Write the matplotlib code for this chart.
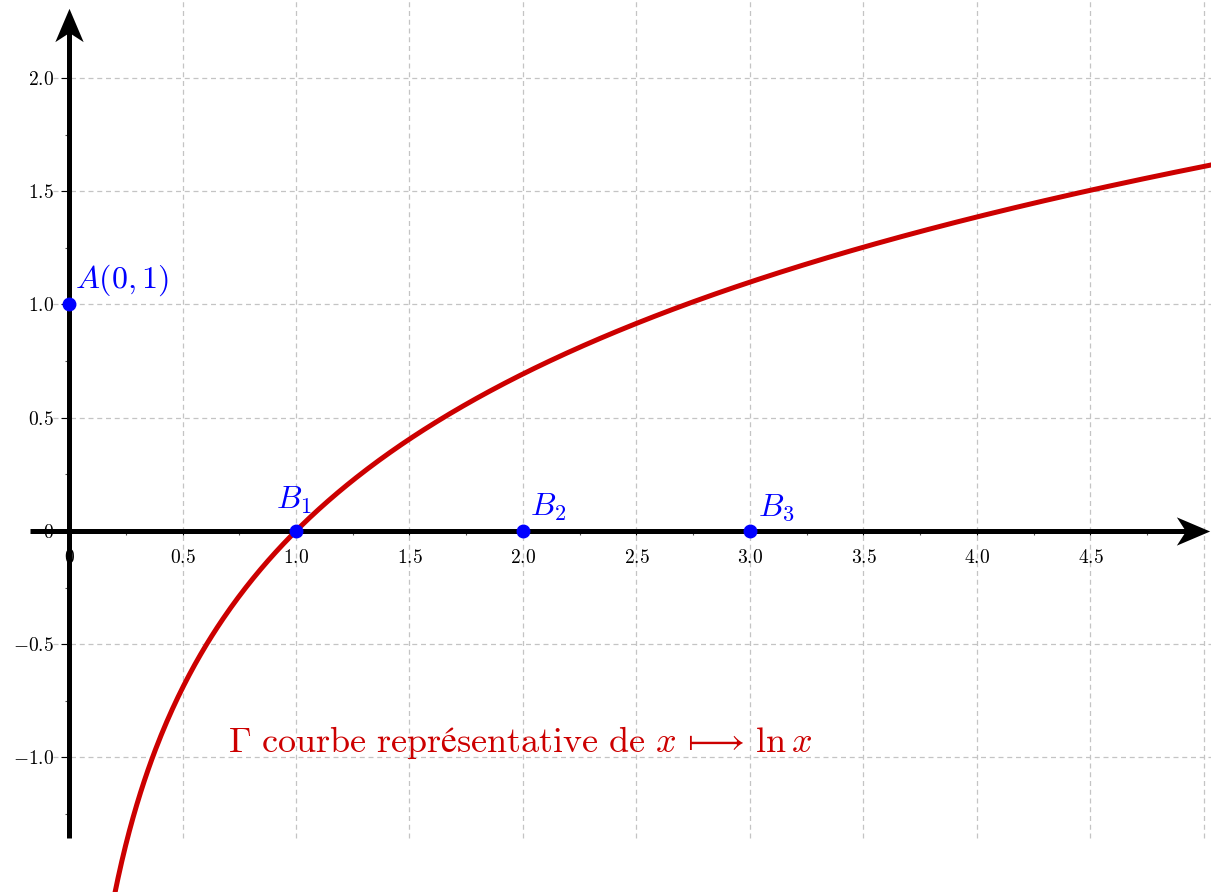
import numpy as np
import matplotlib
matplotlib.use("Agg")
import matplotlib.pyplot as plt
from matplotlib.path import Path

plt.rcParams["mathtext.fontset"] = "cm"
plt.rcParams["font.family"] = ["DejaVu Serif"]

# data
x_ticks = [0, 0.5, 1.0, 1.5, 2.0, 2.5, 3.0, 3.5, 4.0, 4.5]
x_tick_labels = ["0", "0.5", "1.0", "1.5", "2.0", "2.5", "3.0", "3.5", "4.0", "4.5"]
y_ticks = [-1.0, -0.5, 0, 0.5, 1.0, 1.5, 2.0]
y_tick_labels = ["-1.0", "-0.5", "0", "0.5", "1.0", "1.5", "2.0"]
grid_x = [0.5, 1.0, 1.5, 2.0, 2.5, 3.0, 3.5, 4.0, 4.5, 5.0]
grid_y = [-1.0, -0.5, 0.5, 1.0, 1.5, 2.0]

point_names = [r"$A(0,1)$", r"$B_1$", r"$B_2$", r"$B_3$"]
point_x = [0, 1, 2, 3]
point_y = [1, 0, 0, 0]
label_dx = [0.027, -0.09, 0.03, 0.035]
label_dy = [0.075, 0.1, 0.07, 0.07]

curve_x = np.linspace(0.15, 5.1, 600)
curve_y = np.log(curve_x)


def stealth(angle):
    verts = [(1, 0), (-1, 0.85), (-0.45, 0), (-1, -0.85), (1, 0)]
    c, s = np.cos(angle), np.sin(angle)
    verts = [(c * x - s * y, s * x + c * y) for x, y in verts]
    return Path(verts, [Path.MOVETO, Path.LINETO, Path.LINETO, Path.LINETO, Path.CLOSEPOLY])


def main():
    fig = plt.figure(figsize=(12.11, 8.92), dpi=100)
    ax = fig.add_axes([0, 0, 1, 1])
    ax.set_xlim(-0.304, 5.031)
    ax.set_ylim(-1.594, 2.344)

    # grid
    ax.vlines(grid_x, -1.355, 2.344, colors="#c4c4c4", linestyles=(0, (4, 3)), lw=0.9, zorder=1)
    ax.hlines(grid_y, -0.07, 5.031, colors="#c4c4c4", linestyles=(0, (4, 3)), lw=0.9, zorder=1)

    # axes through origin
    for side in ["top", "right"]:
        ax.spines[side].set_visible(False)
    ax.spines["left"].set_position(("data", 0))
    ax.spines["bottom"].set_position(("data", 0))
    ax.spines["left"].set_bounds(-1.355, 2.22)
    ax.spines["bottom"].set_bounds(-0.172, 4.94)
    for side in ["left", "bottom"]:
        ax.spines[side].set_linewidth(3.6)
        ax.spines[side].set_capstyle("butt")
        ax.spines[side].set_zorder(3)

    # arrow heads
    ax.plot(4.952, 0, marker=stealth(0), ms=24, color="black", mew=0, zorder=4, clip_on=False)
    ax.plot(0, 2.234, marker=stealth(np.pi / 2), ms=24, color="black", mew=0, zorder=4, clip_on=False)

    ax.set_xticks(x_ticks)
    ax.set_xticklabels(["$" + s + "$" for s in x_tick_labels])
    ax.set_yticks(y_ticks)
    ax.set_yticklabels(["$" + s + "$" for s in y_tick_labels])
    ax.set_xticks(np.arange(0.25, 5.0, 0.5), minor=True)
    ax.set_yticks(np.arange(-1.25, 2.2, 0.5), minor=True)
    ax.tick_params(axis="x", which="major", length=3, width=0.8, pad=10, labelsize=14)
    ax.tick_params(axis="y", which="major", length=6, width=0.8, pad=5, labelsize=14)
    ax.tick_params(which="minor", length=3, width=0.8, color="#555555")

    # curve
    ax.plot(curve_x, curve_y, color="#cc0000", lw=3.6, zorder=5)

    # points
    ax.plot(point_x, point_y, "o", color="#0000ff", ms=9, zorder=6)
    for name, px, py, dx, dy in zip(point_names, point_x, point_y, label_dx, label_dy):
        ax.text(px + dx, py + dy, name, color="#0000ff", fontsize=23, ha="left", va="baseline", zorder=6)

    ax.text(0.7, -0.975, r"$\Gamma\ \mathrm{courbe\ représentative\ de}\ x\,\longmapsto\,\ln x$",
            color="#cc0000", fontsize=26, ha="left", va="baseline")

    fig.savefig("out.png", dpi=100)


if __name__ == "__main__":
    main()
